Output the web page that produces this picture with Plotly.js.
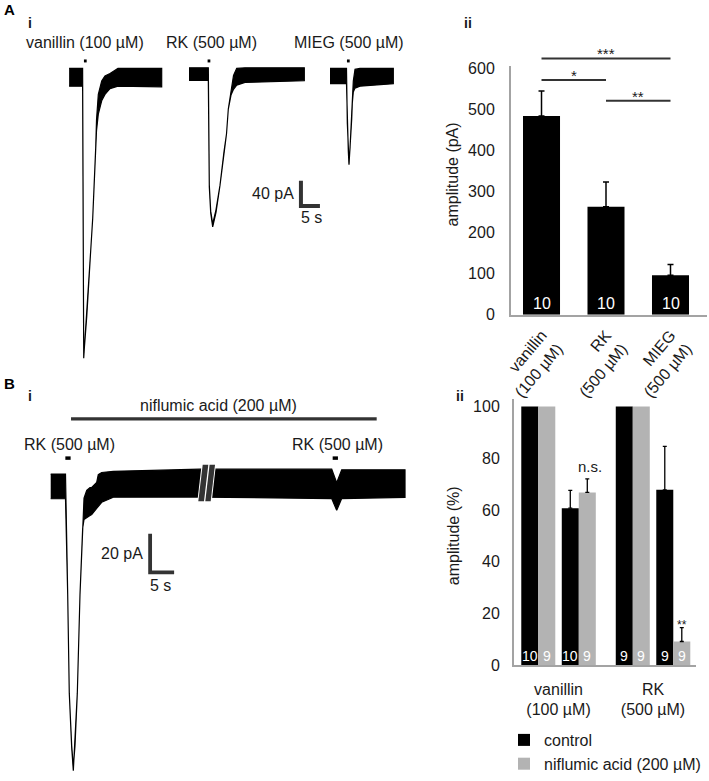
<!DOCTYPE html>
<html><head><meta charset="utf-8">
<script src="https://cdn.plot.ly/plotly-3.0.1.min.js"></script>
<style>html,body{margin:0;padding:0;background:#fff}#chart{width:709px;height:781px}</style>
</head><body><div id="chart"></div>
<script>
// ---------- Panel A i : current traces (time s, current pA) ----------
const vanT  = [2.4, 5.95, 6.24, 7.03, 8.08, 8.61, 9.39, 9.61, 10.08, 10.97, 11.84, 13.16, 15.26, 26.76];
const vanUp = [14, 14, -440, -378, -273, -222, -112, -67, -27, -6, 2, 6, 14, 14];
const vanLo = [-14, -14, -443, -378, -273, -222, -117, -84, -58, -37, -27, -18, -14, -15];

const rkT  = [33.95, 39.03, 39.29, 39.66, 40.18, 41.05, 42.11, 43.16, 43.82, 44.29, 45.0, 45.66, 46.5, 48.68, 64.29];
const rkUp = [15, 15, -170, -211, -231, -209, -170, -117, -89, -50, -22, 3, 14, 15, 15];
const rkLo = [-5, -5, -173, -214, -236, -213, -170, -117, -89, -50, -28, -19, -12.5, -8, -5.5];

const miegT  = [71.05, 75.39, 75.61, 75.87, 76.05, 76.32, 76.76, 76.92, 77.18, 77.63, 78.95, 87.71];
const miegUp = [14, 14, -73, -116, -134, -112, -66, -37, -6, 12.5, 14, 14];
const miegLo = [-10, -10, -73, -117, -138, -112, -66, -41, -23, -17, -14, -10];

const stimA = [6.66, 39.2, 75.87];
const labelsA = ["vanillin (100 µM)", "RK (500 µM)", "MIEG (500 µM)"];

// ---------- Panel A ii : amplitudes ----------
const aCats = ["vanillin<br>(100 µM)", "RK<br>(500 µM)", "MIEG<br>(500 µM)"];
const aAmp  = [484, 263, 96];
const aErr  = [61, 60, 26];
const aN    = [10, 10, 10];
const aSig  = [[0, 2, "***"], [0, 1, "*"], [1, 2, "**"]];

// ---------- Panel B i : trace with niflumic acid ----------
const bT  = [1.19, 4.27, 4.73, 5.06, 5.56, 5.90, 6.25, 6.73, 7.29, 7.85, 8.13, 8.69, 9.38, 9.73, 10.77, 11.10, 11.81, 14.23, 32.29, 59.73, 60.77, 61.81, 75.0];
const bUp = [6.5, 6.5, -56, -107, -134, -145, -134, -107, -56, -21.5, -6, -2, -0.5, -0.4, 2.2, 6.2, 7.3, 7.9, 9, 9, 2, 8.7, 8.7];
const bLo = [-6.3, -6.3, -56, -107, -135, -147, -135, -107, -56, -21.5, -17, -16, -15, -14.4, -11.4, -10.3, -8.1, -5.5, -5.4, -6.2, -12.3, -6.2, -5.6];
const stimB = [4.79, 60.48];
const niflPeriod = [5.42, 69.1];

// ---------- Panel B ii : normalised amplitudes ----------
const bGroups  = ["vanillin<br>(100 µM)", "RK<br>(500 µM)"];
const ctrlVal  = [[100, 60.7], [100, 67.8]];
const ctrlErr  = [[0, 6.9], [0, 16.8]];
const ctrlN    = [[10, 10], [9, 9]];
const niflVal  = [[100, 66.8], [100, 9.25]];
const niflErr  = [[0, 5.2], [0, 5.35]];
const niflN    = [[9, 9], [9, 9]];
const bSig     = [[0, 1, "n.s."], [1, 1, "**"]];
const seriesNames = ["control", "niflumic acid (200 µM)"];

// ---------- helpers ----------
const W = 709, H = 781;
const px = x => x / W;
const py = y => 1 - y / H;
const FONT = "Liberation Sans, Arial, sans-serif";
const TXT = "#1a1a1a";
const DARK = "#333333";
const AXC = "#a3a3a3";

function band(t, up, lo, xa, ya) {
  return {
    type: "scatter", mode: "lines",
    x: t.concat(t.slice().reverse()),
    y: up.concat(lo.slice().reverse()),
    fill: "toself", fillcolor: "#000",
    line: {color: "#000", width: 1.2},
    xaxis: xa, yaxis: ya, showlegend: false, hoverinfo: "skip"
  };
}
// error bars only where an error exists (no cap on normalised 100 % bars)
const errPlus  = arr => arr.map(v => v > 0 ? v : NaN);
const errMinus = arr => arr.map(v => v > 0 ? 0 : NaN);

const data = [
  band(vanT, vanUp, vanLo, "x", "y"),
  band(rkT, rkUp, rkLo, "x", "y"),
  band(miegT, miegUp, miegLo, "x", "y"),
  band(bT, bUp, bLo, "x3", "y3"),
  {
    type: "bar", x: aCats, y: aAmp, xaxis: "x2", yaxis: "y2",
    marker: {color: "#000"}, width: 0.574, showlegend: false,
    error_y: {type: "data", array: errPlus(aErr), arrayminus: errMinus(aErr), symmetric: false,
              color: "#000", thickness: 1.5, width: 3}
  }
];

// Bii bars
const P = 0.4286, BW = 0.18;
const slotX = [], cV = [], cE = [], nV = [], nE = [], cN = [], nN = [];
bGroups.forEach((g, gi) => {
  ctrlVal[gi].forEach((v, ai) => {
    slotX.push(gi + ai * P);
    cV.push(v); cE.push(ctrlErr[gi][ai]); cN.push(ctrlN[gi][ai]);
    nV.push(niflVal[gi][ai]); nE.push(niflErr[gi][ai]); nN.push(niflN[gi][ai]);
  });
});
data.push({
  type: "bar", name: seriesNames[0], x: slotX, y: cV, offset: -BW, width: BW,
  xaxis: "x4", yaxis: "y4", marker: {color: "#000"},
  error_y: {type: "data", array: errPlus(cE), arrayminus: errMinus(cE), symmetric: false,
            color: "#000", thickness: 1.3, width: 2}
});
data.push({
  type: "bar", name: seriesNames[1], x: slotX, y: nV, offset: 0, width: BW,
  xaxis: "x4", yaxis: "y4", marker: {color: "#b3b3b3"},
  error_y: {type: "data", array: errPlus(nE), arrayminus: errMinus(nE), symmetric: false,
            color: "#000", thickness: 1.3, width: 2}
});

const annotations = [];
const shapes = [];
function txt(text, x, y, opts) {
  annotations.push(Object.assign({
    text: text, x: px(x), y: py(y), xref: "paper", yref: "paper",
    showarrow: false, xanchor: "center", yanchor: "middle",
    font: {family: FONT, size: 16, color: TXT}
  }, opts || {}));
}
// panel letters
txt("<b>A</b>", 2, 10, {xanchor: "left", font: {family: FONT, size: 15, color: "#000"}});
txt("<b>i</b>", 26, 23, {xanchor: "left", font: {family: FONT, size: 14, color: TXT}});
txt("<b>ii</b>", 462, 23, {xanchor: "left", font: {family: FONT, size: 14, color: TXT}});
txt("<b>B</b>", 2, 387, {xanchor: "left", font: {family: FONT, size: 15, color: "#000"}});
txt("<b>i</b>", 26, 400, {xanchor: "left", font: {family: FONT, size: 14, color: TXT}});
txt("<b>ii</b>", 454, 400, {xanchor: "left", font: {family: FONT, size: 14, color: TXT}});

// Ai labels
txt(labelsA[0], 85, 43); txt(labelsA[1], 212, 43); txt(labelsA[2], 349, 43);
txt("40 pA", 296, 195, {xanchor: "right"});
txt("5 s", 311, 219);
// Bi labels
txt("niflumic acid (200 µM)", 218.5, 409.5);
txt("RK (500 µM)", 69, 448.5);
txt("RK (500 µM)", 337.5, 448.5);
txt("20 pA", 145, 558.5, {xanchor: "right"});
txt("5 s", 160, 591);
// y titles
txt("amplitude (pA)", 452, 176, {textangle: -90});
txt("amplitude (%)", 453, 541, {textangle: -90});

// stimulus markers
stimA.forEach(t => shapes.push({type: "rect", xref: "x", yref: "paper", x0: t - 0.36, x1: t + 0.36,
  y0: py(63), y1: py(60), fillcolor: "#000", line: {width: 0}}));
stimB.forEach(t => shapes.push({type: "rect", xref: "x3", yref: "paper", x0: t - 0.55, x1: t + 0.55,
  y0: py(464), y1: py(460.5), fillcolor: "#000", line: {width: 0}}));
// niflumic acid bar
shapes.push({type: "line", xref: "x3", yref: "paper", x0: niflPeriod[0], x1: niflPeriod[1],
  y0: py(422.7), y1: py(422.7), line: {color: DARK, width: 3.4}});
// scale bars (data units)
shapes.push({type: "path", xref: "x", yref: "y", path: "M63.4,-163 L63.4,-203 L68.4,-203",
  line: {color: DARK, width: 4}});
shapes.push({type: "path", xref: "x3", yref: "y3", path: "M21.9,-24.4 L21.9,-44.4 L26.9,-44.4",
  line: {color: DARK, width: 3.8}});
// axis break marks on B i trace
function pp(pts) { return "M" + pts.map(p => px(p[0]) + "," + py(p[1])).join(" L") + " Z"; }
shapes.push({type: "path", xref: "paper", yref: "paper",
  path: pp([[197.3, 506.5], [211.7, 506.5], [216, 468], [201.7, 468]]), fillcolor: "#fff", line: {width: 0}});
shapes.push({type: "path", xref: "paper", yref: "paper",
  path: pp([[198.3, 505.7], [204, 505.7], [208.3, 469], [202.7, 469]]), fillcolor: DARK, line: {width: 0}});
shapes.push({type: "path", xref: "paper", yref: "paper",
  path: pp([[205.3, 505.7], [210.7, 505.7], [215, 469], [209.6, 469]]), fillcolor: DARK, line: {width: 0}});

// A ii significance
const sigY = [59, 80.7, 101.7];
aSig.forEach((s, k) => {
  shapes.push({type: "line", xref: "x2", yref: "paper", x0: s[0], x1: s[1], y0: py(sigY[k]), y1: py(sigY[k]),
    line: {color: DARK, width: 2}});
  annotations.push({text: s[2], xref: "x2", yref: "paper", x: (s[0] + s[1]) / 2, y: py(sigY[k]),
    yanchor: "bottom", yshift: -6, showarrow: false, font: {family: FONT, size: 15, color: TXT}});
});
// A ii n labels
aCats.forEach((c, i) => annotations.push({text: String(aN[i]), xref: "x2", yref: "y2", x: i, y: 0,
  yanchor: "bottom", yshift: 1, showarrow: false, font: {family: FONT, size: 16, color: "#fff"}}));
// B ii n labels
slotX.forEach((x, i) => {
  annotations.push({text: String(cN[i]), xref: "x4", yref: "y4", x: x - BW / 2, y: 0, yanchor: "bottom",
    yshift: -1, showarrow: false, font: {family: FONT, size: 14, color: "#fff"}});
  annotations.push({text: String(nN[i]), xref: "x4", yref: "y4", x: x + BW / 2, y: 0, yanchor: "bottom",
    yshift: -1, showarrow: false, font: {family: FONT, size: 14, color: "#fff"}});
});
// B ii significance
bSig.forEach(s => {
  const i = s[0] * 2 + s[1];
  annotations.push({text: s[2], xref: "x4", yref: "y4", x: slotX[i] + BW / 2 + (s[2] === "n.s." ? 0.03 : 0),
    y: nV[i] + nE[i], yanchor: "bottom", yshift: s[2] === "n.s." ? 2 : -6, showarrow: false,
    font: {family: FONT, size: s[2] === "n.s." ? 15 : 12, color: TXT}});
});

const hidden = {visible: false, fixedrange: true};
const layout = {
  width: W, height: H, margin: {l: 0, r: 0, t: 0, b: 0},
  paper_bgcolor: "#fff", plot_bgcolor: "rgba(0,0,0,0)",
  font: {family: FONT, size: 16, color: TXT},
  barmode: "overlay",
  xaxis: Object.assign({domain: [px(60), px(400)], range: [0, 89.47], anchor: "y"}, hidden),
  yaxis: Object.assign({domain: [py(370), py(55)], range: [-456.25, 35.94], anchor: "x"}, hidden),
  xaxis2: {domain: [px(511), px(707)], anchor: "y2", type: "category", range: [-0.473, 2.566],
    showline: true, linecolor: AXC, linewidth: 2, ticks: "outside", ticklen: 3, tickcolor: "rgba(0,0,0,0)",
    tickangle: -50, tickfont: {size: 16, color: TXT}, showgrid: false, zeroline: false, fixedrange: true},
  yaxis2: {domain: [py(317.5), py(67)], anchor: "x2", range: [0, 605],
    showline: true, linecolor: AXC, linewidth: 2, ticks: "outside", ticklen: 11, tickcolor: "rgba(0,0,0,0)",
    tickvals: [0, 100, 200, 300, 400, 500, 600], tickfont: {size: 16, color: TXT},
    showgrid: false, zeroline: false, fixedrange: true},
  xaxis3: Object.assign({domain: [px(45), px(410)], range: [0, 76.04], anchor: "y3"}, hidden),
  yaxis3: Object.assign({domain: [0, py(455)], range: [-148.7, 18.46], anchor: "x3"}, hidden),
  xaxis4: {domain: [px(514), px(696)], anchor: "y4", range: [-0.257, 1.669],
    showline: true, linecolor: AXC, linewidth: 2, ticks: "outside", ticklen: 8, tickcolor: "rgba(0,0,0,0)",
    tickvals: bGroups.map((g, i) => i + P / 2), ticktext: bGroups, tickangle: 0,
    tickfont: {size: 16, color: TXT}, showgrid: false, zeroline: false, fixedrange: true},
  yaxis4: {domain: [py(671.5), py(403)], anchor: "x4", range: [0, 102.7],
    showline: true, linecolor: AXC, linewidth: 2, ticks: "outside", ticklen: 9, tickcolor: "rgba(0,0,0,0)",
    tickvals: [0, 20, 40, 60, 80, 100], tickfont: {size: 16, color: TXT},
    showgrid: false, zeroline: false, fixedrange: true},
  showlegend: true,
  legend: {x: px(504), xanchor: "left", y: py(730), yanchor: "top", bgcolor: "rgba(0,0,0,0)",
    font: {size: 16, color: TXT}, traceorder: "normal"},
  annotations: annotations,
  shapes: shapes
};

Plotly.newPlot("chart", data, layout, {staticPlot: true, displayModeBar: false});
</script>
</body></html>
